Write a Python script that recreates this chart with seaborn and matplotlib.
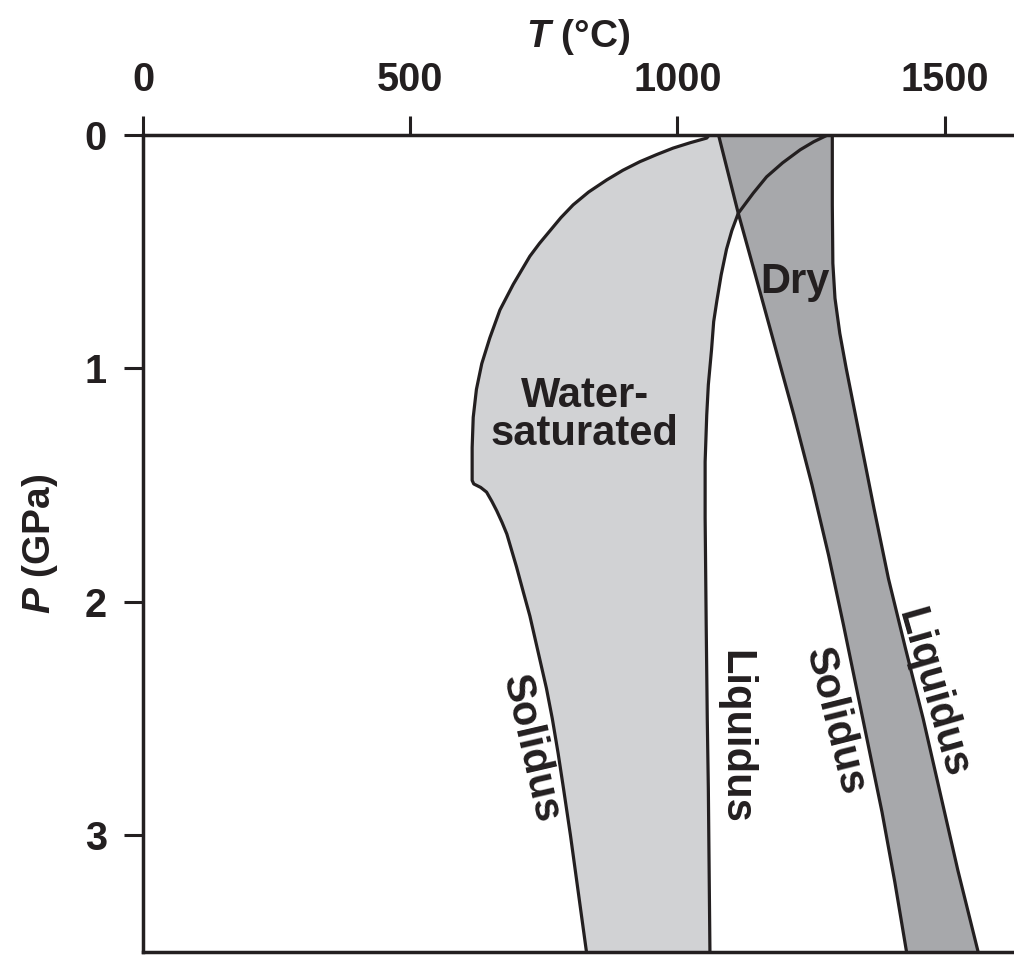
"""
Melting curves of water-saturated and dry rock, P-T diagram
"""
import numpy as np
import matplotlib
matplotlib.use('Agg')
import matplotlib.pyplot as plt
import pandas as pd
import seaborn as sns

# water-saturated solidus (T in degC, P in GPa)
WET_SOLIDUS_T = [1060, 1055, 1024, 992, 961, 930, 898, 868, 834, 805, 782, 762, 742, 724, 693, 668,
                 649, 634, 624, 618, 616, 616, 619, 632, 643, 653, 662, 672, 681, 690, 699, 712,
                 724, 738, 755, 766, 777, 787, 800, 809, 818, 830]
WET_SOLIDUS_P = [0.0, 0.014, 0.034, 0.057, 0.085, 0.115, 0.152, 0.193, 0.245, 0.30, 0.355, 0.41,
                 0.465, 0.52, 0.64, 0.75, 0.87, 0.98, 1.09, 1.21, 1.34, 1.48, 1.495, 1.51, 1.53,
                 1.57, 1.61, 1.66, 1.71, 1.78, 1.85, 1.96, 2.06, 2.2, 2.37, 2.5, 2.65, 2.80, 3.0,
                 3.15, 3.3, 3.5]

# water-saturated liquidus
WET_LIQUIDUS_T = [1282, 1255, 1230, 1197, 1167, 1142, 1114, 1102, 1092, 1082, 1074, 1068, 1064,
                  1058, 1055, 1052, 1052, 1054, 1056, 1058, 1061]
WET_LIQUIDUS_P = [0.0, 0.03, 0.064, 0.12, 0.18, 0.25, 0.336, 0.41, 0.49, 0.6, 0.71, 0.8, 0.92,
                  1.07, 1.2, 1.4, 1.64, 2.1, 2.5, 2.8, 3.5]

# dry solidus
DRY_SOLIDUS_T = [1077, 1114, 1146, 1182, 1218, 1252, 1283, 1311, 1347, 1383, 1407, 1429]
DRY_SOLIDUS_P = [0.0, 0.336, 0.6, 0.9, 1.2, 1.5, 1.8, 2.1, 2.5, 2.9, 3.2, 3.5]

# dry liquidus
DRY_LIQUIDUS_T = [1290, 1290, 1291, 1295, 1304, 1316, 1342, 1368, 1395, 1427, 1460, 1490, 1525, 1563]
DRY_LIQUIDUS_P = [0.0, 0.3, 0.55, 0.7, 0.85, 1.0, 1.3, 1.6, 1.9, 2.2, 2.5, 2.8, 3.15, 3.5]

X_TICKS = [0, 500, 1000, 1500]
Y_TICKS = [0, 1, 2, 3]

LIGHT = '#d1d2d4'
DARK = '#a7a8ab'
INK = '#231f20'
FONT = ['Liberation Sans', 'DejaVu Sans']

sns.set_theme(style='white')
plt.rcParams['font.family'] = FONT
plt.rcParams['font.weight'] = 'bold'
plt.rcParams['mathtext.fontset'] = 'custom'
plt.rcParams['mathtext.it'] = 'Liberation Sans:italic:bold'
plt.rcParams['mathtext.rm'] = 'Liberation Sans:bold'

fig = plt.figure(figsize=(10.14, 9.56), dpi=100)
ax = fig.add_axes([0.141, 0.004, 0.859, 0.855])

# shaded melting intervals: polygon = solidus down, liquidus back up
ax.fill(np.concatenate([WET_SOLIDUS_T, WET_LIQUIDUS_T[::-1]]),
        np.concatenate([WET_SOLIDUS_P, WET_LIQUIDUS_P[::-1]]),
        color=LIGHT, lw=0, zorder=1)
ax.fill(np.concatenate([DRY_SOLIDUS_T, DRY_LIQUIDUS_T[::-1]]),
        np.concatenate([DRY_SOLIDUS_P, DRY_LIQUIDUS_P[::-1]]),
        color=DARK, lw=0, zorder=2)

curves = [(WET_SOLIDUS_T, WET_SOLIDUS_P), (WET_LIQUIDUS_T, WET_LIQUIDUS_P),
          (DRY_SOLIDUS_T, DRY_SOLIDUS_P), (DRY_LIQUIDUS_T, DRY_LIQUIDUS_P)]
for t_values, p_values in curves:
    curve_df = pd.DataFrame({'T': t_values, 'P': p_values})
    sns.lineplot(data=curve_df, x='T', y='P', sort=False, estimator=None,
                 color=INK, lw=2.3, ax=ax, zorder=3)

ax.set_xlim(0, 1630)
ax.set_ylim(3.5, 0)
ax.set_xticks(X_TICKS)
ax.set_yticks(Y_TICKS)
ax.xaxis.tick_top()
ax.xaxis.set_label_position('top')
ax.tick_params(axis='both', direction='out', length=14, width=2.2, color=INK,
               labelsize=28.5, labelcolor=INK, pad=12)
ax.tick_params(axis='x', bottom=False, top=True)
ax.tick_params(axis='y', left=True, right=False)
for side in ['top', 'left', 'bottom']:
    ax.spines[side].set_color(INK)
    ax.spines[side].set_linewidth(2.5)
ax.spines['right'].set_visible(False)

ax.set_xlabel(r'$T$ (°C)', fontsize=28, fontweight='bold', color=INK, labelpad=10)
ax.set_ylabel(r'$P$ (GPa)', fontsize=28, fontweight='bold', color=INK, labelpad=18)

text_style = dict(fontsize=30, color=INK, ha='center', va='center', zorder=4)
ax.text(827, 1.20, 'Water-\nsaturated', linespacing=0.92, **text_style)
ax.text(1220, 0.63, 'Dry', **text_style)
ax.text(726, 2.63, 'Solidus', rotation=-77, rotation_mode='anchor', **text_style)
ax.text(1108, 2.58, 'Liquidus', rotation=-90, rotation_mode='anchor', **text_style)
ax.text(1295, 2.51, 'Solidus', rotation=-76, rotation_mode='anchor', **text_style)
ax.text(1477, 2.39, 'Liquidus', rotation=-74, rotation_mode='anchor', **text_style)

fig.savefig('out.png', dpi=100)
